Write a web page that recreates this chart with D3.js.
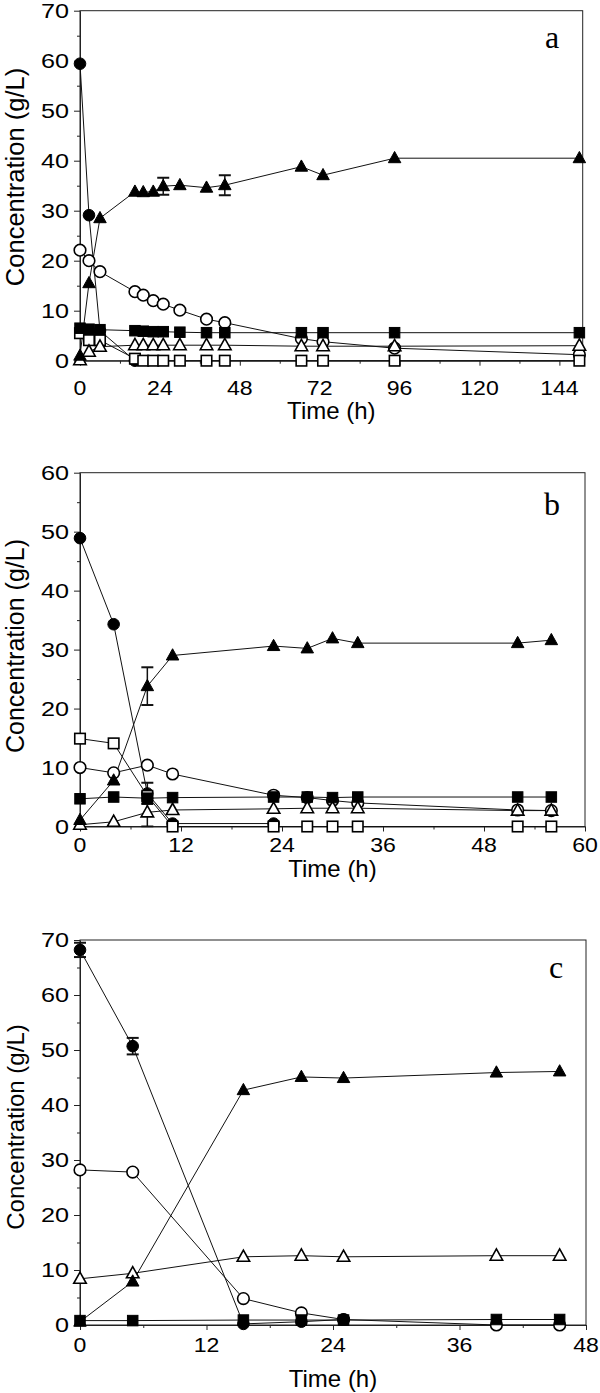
<!DOCTYPE html>
<html><head><meta charset="utf-8">
<script src="https://cdn.jsdelivr.net/npm/d3@7"></script>
<style>
html,body{margin:0;padding:0;background:#fff;}
svg{display:block;}
</style></head>
<body>
<svg id="chart" width="600" height="1393"></svg>
<script>
// ---------- Panel a ----------
const timeA = [0, 2.7, 6, 16.5, 19, 22, 25, 30, 38, 43.5, 66.5, 73, 94.5, 150];
const filledCircleA = [59.4, 29.1, 6.0, 0];
const openCircleA = [22.1, 20.0, 17.8, 13.8, 13.1, 12.0, 11.3, 10.1, 8.3, 7.6, 4.4, 3.8, 2.5, 1.2];
const filledTriA = [1.0, 15.5, 28.5, 33.8, 33.7, 33.8, 34.9, 35.1, 34.6, 35.1, 38.8, 37.1, 40.5, 40.5];
const filledTriErrA = [0, 0, 0, 0, 0, 0, 1.7, 0, 0, 2.0, 0, 0, 0, 0];
const openTriA = [0.1, 1.8, 2.8, 3.1, 3.1, 3.1, 3.1, 3.1, 3.1, 3.1, 2.9, 2.9, 2.9, 3.0];
const filledSqA = [6.5, 6.3, 6.2, 6.0, 5.9, 5.8, 5.8, 5.7, 5.6, 5.6, 5.6, 5.6, 5.6, 5.6];
const openSqA = [5.5, 4.1, 4.1, 0.4, 0, 0, 0, 0, 0, 0, 0, 0, 0, 0];
const xTicksA = [0, 24, 48, 72, 96, 120, 144];
const yTicksA = [0, 10, 20, 30, 40, 50, 60, 70];

// ---------- Panel b ----------
const timeB = [0, 4, 8, 11, 23, 27, 30, 33, 52, 56];
const filledCircleB = [48.9, 34.3, 5.6, 0.5, 0.5];
const filledCircleErrB = [0, 0, 1.8, 0, 0];
const openCircleB = [10.0, 9.1, 10.4, 8.9, 5.3, 4.9, 4.4, 4.0, 2.8, 2.7];
const filledTriB = [1.1, 7.8, 23.8, 29.0, 30.6, 30.2, 31.9, 31.1, 31.1, 31.6];
const filledTriErrB = [0, 0, 3.2, 0, 0, 0, 0, 0, 0, 0];
const openTriB = [0.3, 0.8, 2.4, 2.8, 3.0, 3.1, 3.1, 3.1, 2.7, 2.7];
const openTriErrB = [0, 0, 2.4, 0, 0, 0, 0, 0, 0, 0];
const filledSqB = [4.7, 5.0, 4.8, 4.9, 5.0, 5.0, 4.9, 5.0, 5.0, 5.0];
const openSqB = [14.9, 14.1, 5.2, 0, 0, 0, 0, 0, 0, 0];
const xTicksB = [0, 12, 24, 36, 48, 60];
const yTicksB = [0, 10, 20, 30, 40, 50, 60];

// ---------- Panel c ----------
const timeC = [0, 5, 15.5, 21, 25, 39.5, 45.5];
const filledCircleC = [68.2, 50.7, 0.2, 0.6, 1.0];
const filledCircleErrC = [1.3, 1.5, 0, 0, 0];
const openCircleC = [28.2, 27.8, 4.8, 2.2, 1.0, 0, 0];
const filledTriC = [0.6, 7.9, 42.7, 45.1, 44.9, 45.9, 46.1];
const openTriC = [8.4, 9.4, 12.4, 12.6, 12.4, 12.6, 12.6];
const filledSqC = [0.8, 0.8, 0.9, 0.9, 0.9, 1.0, 1.0];
const xTicksC = [0, 12, 24, 36, 48];
const yTicksC = [0, 10, 20, 30, 40, 50, 60, 70];

const svg = d3.select("#chart");
const SANS = "'Liberation Sans', Arial, sans-serif";
const SERIF = "'Liberation Serif', 'Times New Roman', serif";

function series(time, vals, sym, err) {
  return { sym, pts: vals.map((v, i) => ({ t: time[i], v, e: err ? err[i] : 0 })) };
}

const panels = [
  { id: "a", x0: 80, x1: 582.7, y0: 10.7, y1: 360.7, xDom: [0, 151], yDom: [0, 70],
    xTicks: xTicksA, xMinor: 12, yTicks: yTicksA, yMinor: 5, tickLabDy: 27, titleDy: 50,
    yTitle: { y: 177, size: 25.5 },
    label: { x: 552, y: 48 },
    series: [
      series(timeA, openCircleA, "oc"),
      series(timeA, filledCircleA, "fc"),
      series(timeA, openSqA, "os"),
      series(timeA, openTriA, "ot"),
      series(timeA, filledSqA, "fs"),
      series(timeA, filledTriA, "ft", filledTriErrA)
    ] },
  { id: "b", x0: 80, x1: 585, y0: 472.7, y1: 826.5, xDom: [0, 60], yDom: [0, 60],
    xTicks: xTicksB, xMinor: 6, yTicks: yTicksB, yMinor: 5, tickLabDy: 18, titleDy: 42,
    yTitle: { y: 646, size: 25 },
    label: { x: 552, y: 515 },
    series: [
      series(timeB, openCircleB, "oc"),
      series(timeB, filledCircleB, "fc", filledCircleErrB),
      series(timeB, openSqB, "os"),
      series(timeB, openTriB, "ot", openTriErrB),
      series(timeB, filledSqB, "fs"),
      series(timeB, filledTriB, "ft", filledTriErrB)
    ] },
  { id: "c", x0: 80, x1: 586, y0: 940, y1: 1325, xDom: [0, 48], yDom: [0, 70],
    xTicks: xTicksC, xMinor: 6, yTicks: yTicksC, yMinor: 5, tickLabDy: 20, titleDy: 53,
    yTitle: { y: 1127, size: 24 },
    label: { x: 556, y: 978 },
    series: [
      series(timeC, openCircleC, "oc"),
      series(timeC, filledCircleC, "fc", filledCircleErrC),
      series(timeC, openTriC, "ot"),
      series(timeC, filledSqC, "fs"),
      series(timeC, filledTriC, "ft")
    ] }
];

panels.forEach(p => {
  const x = d3.scaleLinear().domain(p.xDom).range([p.x0, p.x1]);
  const y = d3.scaleLinear().domain(p.yDom).range([p.y1, p.y0]);
  const g = svg.append("g");
  const clipId = "clip-" + p.id;
  g.append("clipPath").attr("id", clipId).append("rect")
    .attr("x", p.x0 - 8).attr("y", p.y0).attr("width", p.x1 - p.x0 + 16).attr("height", p.y1 - p.y0 + 1);

  g.append("rect").attr("x", p.x0).attr("y", p.y0).attr("width", p.x1 - p.x0).attr("height", p.y1 - p.y0)
    .attr("fill", "none").attr("stroke", "#222").attr("stroke-width", 1);

  const xMinorVals = d3.range(p.xDom[0], p.xDom[1] + 0.001, p.xMinor).filter(v => !p.xTicks.includes(v));
  const yMinorVals = d3.range(p.yDom[0], p.yDom[1] + 0.001, p.yMinor).filter(v => !p.yTicks.includes(v));

  g.append("g").attr("transform", `translate(0,${p.y1})`)
    .call(d3.axisBottom(x).tickValues(p.xTicks).tickSize(5).tickSizeOuter(0).tickFormat(""));
  g.append("g").attr("transform", `translate(${p.x0},0)`)
    .call(d3.axisLeft(y).tickValues(p.yTicks).tickSize(6).tickSizeOuter(0).tickFormat(""));
  g.append("g").attr("transform", `translate(0,${p.y1})`)
    .call(d3.axisBottom(x).tickValues(xMinorVals).tickSize(3).tickSizeOuter(0).tickFormat(""))
    .call(a => a.select(".domain").remove());
  g.append("g").attr("transform", `translate(${p.x0},0)`)
    .call(d3.axisLeft(y).tickValues(yMinorVals).tickSize(3).tickSizeOuter(0).tickFormat(""))
    .call(a => a.select(".domain").remove());
  g.selectAll(".domain").attr("stroke", "#222");
  g.selectAll(".tick line").attr("stroke", "#222");

  p.xTicks.forEach(v => {
    g.append("text").attr("transform", `translate(${x(v)},${p.y1 + p.tickLabDy}) scale(1.1,1)`)
      .attr("text-anchor", "middle").attr("dominant-baseline", "central")
      .attr("font-family", SANS).attr("font-size", 21).text(v);
  });
  p.yTicks.forEach(v => {
    g.append("text").attr("transform", `translate(${p.x0 - 11},${y(v)}) scale(1.2,1)`)
      .attr("text-anchor", "end").attr("dominant-baseline", "central")
      .attr("font-family", SANS).attr("font-size", 21).text(v);
  });

  g.append("text").attr("x", (p.x0 + p.x1) / 2).attr("y", p.y1 + p.titleDy)
    .attr("text-anchor", "middle").attr("dominant-baseline", "central")
    .attr("font-family", SANS).attr("font-size", 24).text("Time (h)");
  g.append("text").attr("transform", `translate(24,${p.yTitle.y}) rotate(-90)`)
    .attr("text-anchor", "middle").attr("font-family", SANS).attr("font-size", p.yTitle.size).text("Concentration (g/L)");

  g.append("text").attr("x", p.label.x).attr("y", p.label.y).attr("text-anchor", "middle")
    .attr("font-family", SERIF).attr("font-size", 32).text(p.id);

  const line = d3.line().x(d => x(d.t)).y(d => y(d.v));
  const plot = g.append("g").attr("clip-path", `url(#${clipId})`);

  p.series.forEach(s => {
    plot.append("path").datum(s.pts).attr("d", line).attr("fill", "none")
      .attr("stroke", "#111").attr("stroke-width", 1);
  });

  const sqSize = 10.5, triSize = 12.5, circR = 5.8;
  p.series.forEach(s => {
    const filled = s.sym[0] === "f";
    const shape = s.sym[1];
    const eb = plot.append("g");
    s.pts.filter(d => d.e > 0).forEach(d => {
      const cx = x(d.t), ya = y(d.v + d.e), yb = y(d.v - d.e);
      eb.append("line").attr("x1", cx).attr("x2", cx).attr("y1", ya).attr("y2", yb).attr("stroke", "#111").attr("stroke-width", 1.5);
      [ya, yb].forEach(yy => eb.append("line").attr("x1", cx - 6).attr("x2", cx + 6).attr("y1", yy).attr("y2", yy)
        .attr("stroke", "#111").attr("stroke-width", 2));
    });
    const gs = g.append("g");
    s.pts.forEach(d => {
      const cx = x(d.t), cy = y(d.v);
      let el;
      if (shape === "c") {
        el = gs.append("circle").attr("cx", cx).attr("cy", cy).attr("r", circR);
      } else if (shape === "s") {
        el = gs.append("rect").attr("x", cx - sqSize / 2).attr("y", cy - sqSize / 2).attr("width", sqSize).attr("height", sqSize);
      } else {
        const h = triSize * 0.9;
        el = gs.append("path").attr("d", `M${cx},${cy - h * 0.6}L${cx + triSize / 2},${cy + h * 0.4}L${cx - triSize / 2},${cy + h * 0.4}Z`);
      }
      el.attr("fill", filled ? "#000" : "#fff").attr("stroke", "#000").attr("stroke-width", filled ? 1 : 1.6);
    });
  });
});
</script>
</body></html>
